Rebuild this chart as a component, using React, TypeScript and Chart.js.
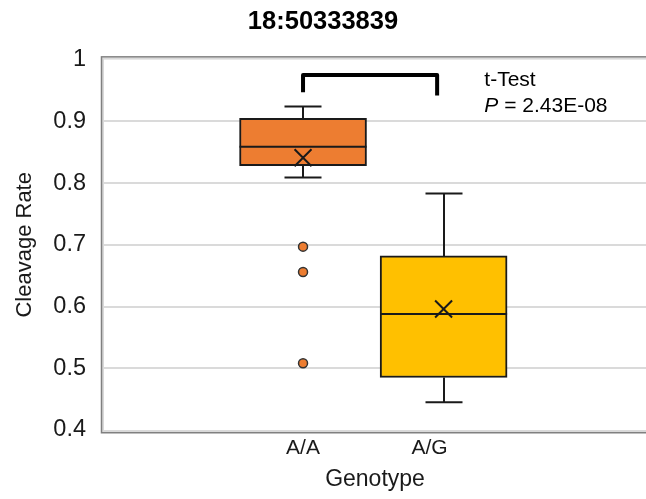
import React, { useEffect, useRef } from 'react';
import { Chart, registerables } from 'chart.js';

Chart.register(...registerables);

// ---- data ----
const categories = ['A/A', 'A/G'];
const categoryX = [1, 2];
const tickLabelX = [1, 1.9];
const whiskerMin = [0.809, 0.445];
const q1 = [0.828, 0.485];
const medians = [0.859, 0.588];
const q3 = [0.905, 0.682];
const whiskerMax = [0.924, 0.783];
const means = [0.841, 0.596];
const outlierX = [1, 1, 1];
const outlierY = [0.697, 0.656, 0.508];
const boxColors = ['#ED7D31', '#FFC000'];
const titleText = '18:50333839';
const xTitle = 'Genotype';
const yTitle = 'Cleavage Rate';
const testLabel = 't-Test';
const pLabel = 'P';
const pValueText = ' = 2.43E-08';
const bracketX = [1, 1.954];
const bracketTopY = 0.975;
const bracketLegY = [0.947, 0.942];
const annotX = 2.29;
const annotY = [0.967, 0.925];

const FONT = '"Liberation Sans", Arial, sans-serif';

const decor = {
  id: 'decor',
  beforeDatasetsDraw(chart: any) {
    const { ctx, chartArea: a, scales } = chart;
    const x = scales.x;
    const y = scales.y;
    ctx.save();
    // frame
    ctx.strokeStyle = '#d9d9d9';
    ctx.lineWidth = 2;
    ctx.strokeRect(a.left - 1, a.top - 1, a.right - a.left + 10, a.bottom - a.top + 2);
    ctx.strokeStyle = '#808080';
    ctx.lineWidth = 1.5;
    ctx.strokeRect(a.left - 2.5, a.top - 2.75, a.right - a.left + 10, a.bottom - a.top + 5.5);
    // whiskers
    ctx.strokeStyle = '#1a1a1a';
    ctx.lineWidth = 2;
    const capHalf = 18.5;
    categoryX.forEach((cx, i) => {
      const px = Math.round(x.getPixelForValue(cx));
      const yMax = y.getPixelForValue(whiskerMax[i]);
      const yMin = y.getPixelForValue(whiskerMin[i]);
      ctx.beginPath();
      ctx.moveTo(px, yMax);
      ctx.lineTo(px, y.getPixelForValue(q3[i]));
      ctx.moveTo(px, yMin);
      ctx.lineTo(px, y.getPixelForValue(q1[i]));
      ctx.moveTo(px - capHalf, yMax);
      ctx.lineTo(px + capHalf, yMax);
      ctx.moveTo(px - capHalf, yMin);
      ctx.lineTo(px + capHalf, yMin);
      ctx.stroke();
    });
    ctx.restore();
  },
  afterDatasetDraw(chart: any, args: any) {
    if (args.index !== 2) return;
    const { ctx, scales } = chart;
    const x = scales.x;
    const y = scales.y;
    ctx.save();
    ctx.strokeStyle = '#1a1a1a';
    ctx.lineWidth = 2;
    categoryX.forEach((cx, i) => {
      const px = x.getPixelForValue(cx);
      const py = y.getPixelForValue(medians[i]);
      ctx.beginPath();
      ctx.moveTo(px - 63.5, py);
      ctx.lineTo(px + 63.5, py);
      ctx.stroke();
    });
    ctx.restore();
  },
  afterDatasetsDraw(chart: any) {
    const { ctx, scales } = chart;
    const x = scales.x;
    const y = scales.y;
    ctx.save();
    // bracket
    const x0 = x.getPixelForValue(bracketX[0]);
    const x1 = x.getPixelForValue(bracketX[1]);
    const yt = y.getPixelForValue(bracketTopY);
    ctx.strokeStyle = '#000';
    ctx.lineWidth = 4;
    ctx.lineJoin = 'round';
    ctx.lineCap = 'butt';
    ctx.beginPath();
    ctx.moveTo(x0, y.getPixelForValue(bracketLegY[0]));
    ctx.lineTo(x0, yt);
    ctx.lineTo(x1, yt);
    ctx.lineTo(x1, y.getPixelForValue(bracketLegY[1]));
    ctx.stroke();
    // annotation text
    const tx = x.getPixelForValue(annotX);
    ctx.fillStyle = '#000';
    ctx.textBaseline = 'middle';
    ctx.textAlign = 'left';
    ctx.font = `21px ${FONT}`;
    ctx.fillText(testLabel, tx, y.getPixelForValue(annotY[0]));
    const py = y.getPixelForValue(annotY[1]);
    ctx.font = `italic 21px ${FONT}`;
    ctx.fillText(pLabel, tx, py);
    const w = ctx.measureText(pLabel).width;
    ctx.font = `21px ${FONT}`;
    ctx.fillText(pValueText, tx + w, py);
    ctx.restore();
  },
};

export default function App() {
  const ref = useRef<HTMLCanvasElement | null>(null);
  useEffect(() => {
    if (!ref.current) return;
    const chart = new Chart(ref.current, {
      type: 'bar',
      data: {
        datasets: [
          {
            type: 'scatter',
            label: 'mean',
            data: categoryX.map((cx, i) => ({ x: cx, y: means[i] })),
            pointStyle: 'crossRot',
            radius: 12,
            borderColor: '#1a1a1a',
            borderWidth: 2,
            backgroundColor: 'transparent',
            order: 0,
          } as any,
          {
            type: 'scatter',
            label: 'outliers',
            data: outlierX.map((ox, i) => ({ x: ox, y: outlierY[i] })),
            pointStyle: 'circle',
            radius: 4.5,
            backgroundColor: boxColors[0],
            borderColor: '#333',
            borderWidth: 1.5,
            order: 1,
          } as any,
          {
            type: 'bar',
            label: 'box',
            data: categoryX.map((cx, i) => ({ x: cx, y: [q1[i], q3[i]] })),
            backgroundColor: boxColors,
            borderColor: '#1a1a1a',
            borderWidth: 2,
            borderSkipped: false,
            barThickness: 127,
            grouped: false,
            order: 2,
          } as any,
        ],
      },
      options: {
        animation: false,
        responsive: false,
        layout: { padding: 0, autoPadding: false },
        plugins: {
          legend: { display: false },
          tooltip: { enabled: false },
          title: {
            display: true,
            text: titleText,
            color: '#000',
            font: { family: FONT, size: 25.5, weight: 'bold' },
            padding: { top: 7, bottom: 22 },
          },
        },
        scales: {
          x: {
            type: 'linear',
            offset: false,
            min: -0.416,
            max: 3.44,
            grid: { display: false, drawTicks: false },
            border: { display: false },
            afterBuildTicks: (s: any) => {
              s.ticks = tickLabelX.map((v) => ({ value: v }));
            },
            afterFit: (s: any) => {
              s.height = 69;
              s.paddingLeft = 0;
              s.paddingRight = 0;
            },
            ticks: {
              color: '#1a1a1a',
              font: { family: FONT, size: 21 },
              padding: 6,
              maxRotation: 0,
              autoSkip: false,
              callback: (v: any) => {
                const idx = tickLabelX.indexOf(Number(v));
                return idx >= 0 ? categories[idx] : '';
              },
            },
            title: {
              display: true,
              text: xTitle,
              color: '#1a1a1a',
              font: { family: FONT, size: 23 },
              padding: { top: 0, bottom: 6 },
            },
          },
          y: {
            type: 'linear',
            min: 0.4,
            max: 1,
            beginAtZero: false,
            grid: {
              drawTicks: false,
              lineWidth: 2,
              color: (c: any) =>
                c.tick && (Math.abs(c.tick.value - 1) < 1e-6 || Math.abs(c.tick.value - 0.4) < 1e-6)
                  ? 'rgba(0,0,0,0)'
                  : '#dadada',
            },
            border: { display: false },
            afterFit: (s: any) => {
              s.width = 104;
              s.paddingTop = 0;
              s.paddingBottom = 0;
            },
            ticks: {
              stepSize: 0.1,
              color: '#1a1a1a',
              font: { family: FONT, size: 23.5 },
              padding: 18,
              callback: (v: any) => String(Number(Number(v).toFixed(1))),
            },
            title: {
              display: true,
              text: yTitle,
              color: '#1a1a1a',
              font: { family: FONT, size: 22 },
              padding: { top: 12, bottom: 0 },
            },
          },
        },
      } as any,
      plugins: [decor],
    });
    return () => chart.destroy();
  }, []);
  return (
    <div style={{ position: 'absolute', left: 0, top: 0, width: 646, height: 499, background: '#fff' }}>
      <canvas ref={ref} width={646} height={499} style={{ display: 'block' }} />
    </div>
  );
}
